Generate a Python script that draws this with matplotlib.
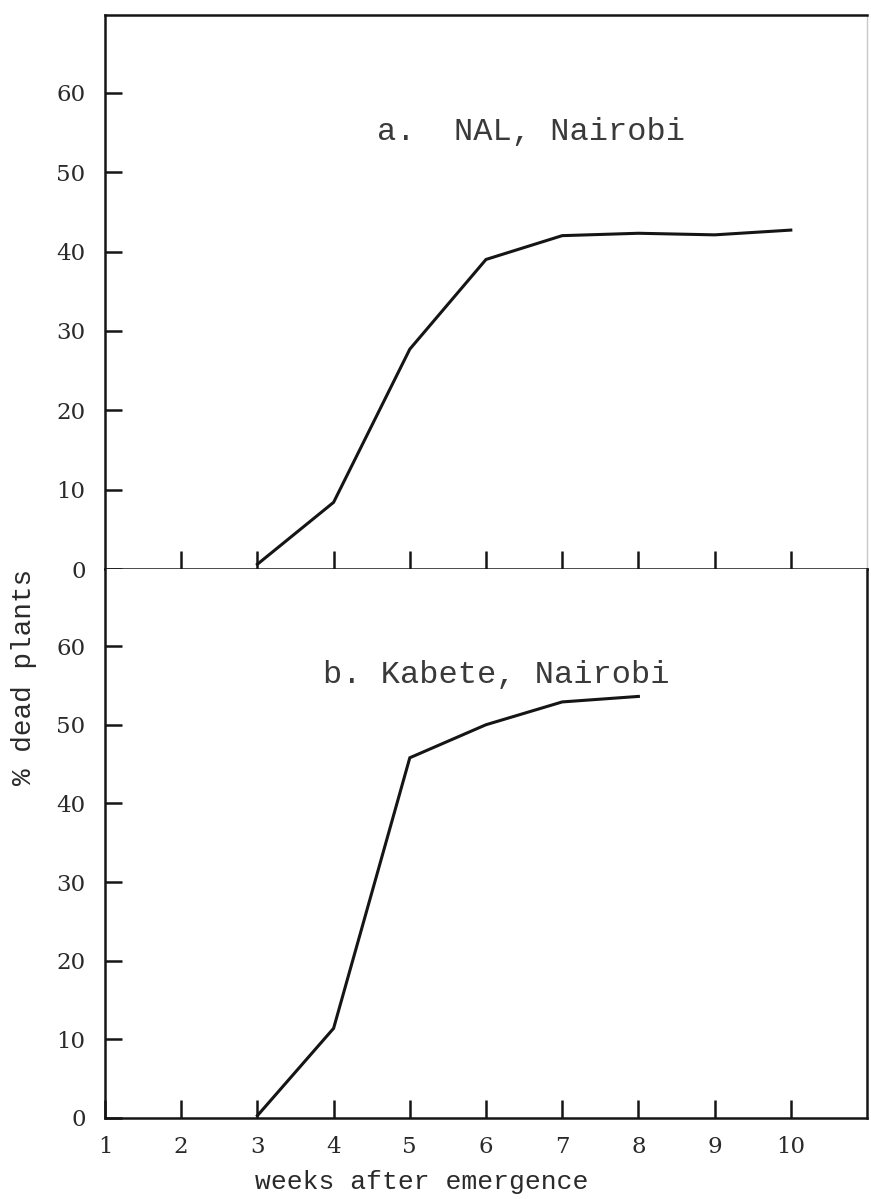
import matplotlib
matplotlib.use("Agg")
import matplotlib.pyplot as plt

# Cumulative plant mortality (% dead plants) by week after emergence
weeks_nal = [3, 4, 5, 6, 7, 8, 9, 10]
dead_nal = [0.6, 8.4, 27.7, 39.0, 42.0, 42.3, 42.1, 42.7]

weeks_kabete = [3, 4, 5, 6, 7, 8]
dead_kabete = [0.3, 11.4, 45.8, 50.0, 52.9, 53.6]

x_ticks = [1, 2, 3, 4, 5, 6, 7, 8, 9, 10]
y_ticks = [0, 10, 20, 30, 40, 50, 60]

panel_a_label = "a.  NAL, Nairobi"
panel_b_label = "b. Kabete, Nairobi"
x_label = "weeks after emergence"
y_label = "% dead plants"

INK = "#151515"
TICK_FONT = "DejaVu Serif"
TYPE_FONT = "Liberation Mono"

W, H = 871, 1199
fig = plt.figure(figsize=(W / 100, H / 100), dpi=100)
fig.patch.set_facecolor("white")

left_px, right_px = 105, 867
top_px, mid_px, bot_px = 15, 569, 1118

ax_a = fig.add_axes([left_px / W, (H - mid_px) / H,
                     (right_px - left_px) / W, (mid_px - top_px) / H])
ax_b = fig.add_axes([left_px / W, (H - bot_px) / H,
                     (right_px - left_px) / W, (bot_px - mid_px) / H])

for ax in (ax_a, ax_b):
    ax.set_xlim(1, 11)
    ax.set_ylim(0, 69.8)
    ax.set_yticks(y_ticks)
    ax.set_yticklabels([str(v) for v in y_ticks], fontfamily=TICK_FONT,
                       fontsize=16.5, color="#2a2a2a")
    ax.tick_params(axis="y", direction="in", length=12, width=1.8,
                   color=INK, pad=14)
    ax.tick_params(axis="x", direction="in", length=13, width=1.8,
                   color=INK)
    for side in ("left", "bottom", "right", "top"):
        ax.spines[side].set_color(INK)
        ax.spines[side].set_linewidth(1.8)

# upper panel
ax_a.plot(weeks_nal, dead_nal, color=INK, linewidth=2.2,
          solid_joinstyle="miter")
ax_a.set_xticks(x_ticks[1:])
ax_a.set_xticklabels([])
ax_a.spines["right"].set_color("#c8c8c8")
ax_a.spines["right"].set_linewidth(1.0)
ax_a.text(6.59, 55.0, panel_a_label, fontfamily=TYPE_FONT, fontsize=23,
          color="#3a3a3a", ha="center", va="center")

# lower panel
ax_b.plot(weeks_kabete, dead_kabete, color=INK, linewidth=2.2,
          solid_joinstyle="miter")
ax_b.spines["top"].set_visible(False)
ax_b.set_xticks(x_ticks)
ax_b.set_xticklabels([str(v) for v in x_ticks], fontfamily=TICK_FONT,
                     fontsize=16.5, color="#2a2a2a")
ax_b.tick_params(axis="x", pad=13)
ax_b.text(6.14, 56.3, panel_b_label, fontfamily=TYPE_FONT, fontsize=23,
          color="#3a3a3a", ha="center", va="center")

fig.text(422 / W, 1 - 1182 / H, x_label, fontfamily=TYPE_FONT,
         fontsize=19, color="#2a2a2a", ha="center", va="center")
fig.text(24 / W, 1 - 677 / H, y_label, rotation=90, fontfamily=TYPE_FONT,
         fontsize=20, color="#2a2a2a", ha="center", va="center")

fig.savefig("out.png", dpi=100, facecolor="white")
